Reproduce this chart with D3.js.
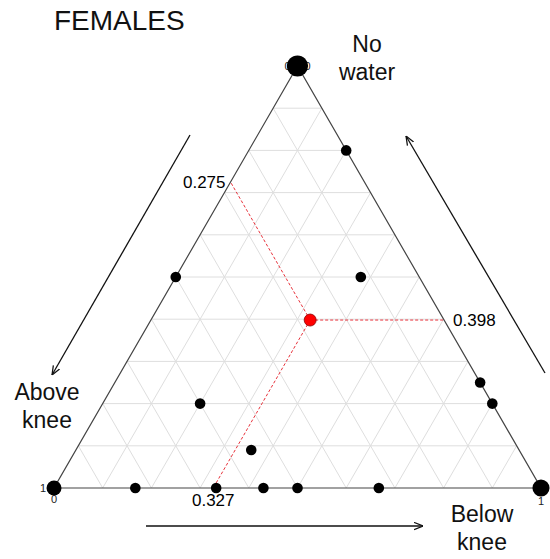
<html>
<head>
    <title>Ternary plot - females</title>
    <style type="text/css">
        body{ margin: 0; background-color: #fff; }
        svg{ display: block; font-family: "Liberation Sans", Arial, sans-serif; }
        .grid{ stroke: #dedede; stroke-width: 1px; }
        .edge{ stroke: #444; stroke-width: 1.2px; fill: none; }
        .guide{ stroke: #e8333c; stroke-width: 1px; stroke-dasharray: 3,2; }
        .arrow{ stroke: #111; stroke-width: 1.3px; fill: none; }
    </style>
    <script type="text/javascript" src="https://cdn.jsdelivr.net/npm/d3@7"></script>
</head>
<body>
<div id="chart"></div>
<script type="text/javascript">
    // compositions: above knee / below knee / no water
    var aboveKnee = [0, 1, 0, 0, 0.5, 0.12, 0, 0, 0.6, 0.55, 0.833, 0.667, 0.57, 0.5, 0.333];
    var belowKnee = [0, 0, 1, 0.2, 0, 0.38, 0.75, 0.8, 0.2, 0.36, 0.167, 0.333, 0.43, 0.5, 0.667];
    var noWater   = [1, 0, 0, 0.8, 0.5, 0.5, 0.25, 0.2, 0.2, 0.09, 0, 0, 0, 0, 0];
    var counts    = [4, 2, 2.6, 1, 1, 1, 1, 1, 1, 1, 1, 1, 1, 1, 1];

    // mean composition [above, below, noWater]
    var meanComp = [0.275, 0.327, 0.398];
    var meanLabels = ['0.275', '0.327', '0.398'];

    var gridLevels = [0.1, 0.2, 0.3, 0.4, 0.5, 0.6, 0.7, 0.8, 0.9];
    var axisNames = { above: ['Above', 'knee'], below: ['Below', 'knee'], water: ['No', 'water'] };
    var title = 'FEMALES';

    var width = 550, height = 559;
    var xLeft = 54, xRight = 541, yBase = 488, yApex = 66;

    // x position from (below + water/2), y from water share
    var xScale = d3.scaleLinear().domain([0, 1]).range([xLeft, xRight]);
    var yScale = d3.scaleLinear().domain([0, 1]).range([yBase, yApex]);
    var rScale = d3.scaleSqrt().domain([0, 1]).range([0, 5.3]);

    function px(a, b, w){ return xScale(b + w / 2); }
    function py(a, b, w){ return yScale(w); }

    var svg = d3.select('#chart').append('svg')
        .attr('width', width).attr('height', height);

    // grid lines
    var gridG = svg.append('g');
    gridLevels.forEach(function(v){
        // constant no water
        gridG.append('line').attr('class', 'grid')
            .attr('x1', px(1 - v, 0, v)).attr('y1', py(1 - v, 0, v))
            .attr('x2', px(0, 1 - v, v)).attr('y2', py(0, 1 - v, v));
        // constant below knee
        gridG.append('line').attr('class', 'grid')
            .attr('x1', px(1 - v, v, 0)).attr('y1', py(1 - v, v, 0))
            .attr('x2', px(0, v, 1 - v)).attr('y2', py(0, v, 1 - v));
        // constant above knee
        gridG.append('line').attr('class', 'grid')
            .attr('x1', px(v, 1 - v, 0)).attr('y1', py(v, 1 - v, 0))
            .attr('x2', px(v, 0, 1 - v)).attr('y2', py(v, 0, 1 - v));
    });

    // triangle
    svg.append('path').attr('class', 'edge')
        .attr('d', d3.line()([
            [px(1, 0, 0), py(1, 0, 0)],
            [px(0, 1, 0), py(0, 1, 0)],
            [px(0, 0, 1), py(0, 0, 1)]
        ]) + 'Z');

    // guide lines from mean
    var ma = meanComp[0], mb = meanComp[1], mw = meanComp[2];
    var mx = px(ma, mb, mw), my = py(ma, mb, mw);
    var ends = [
        [ma, 0, 1 - ma],
        [1 - mb, mb, 0],
        [0, 1 - mw, mw]
    ];
    ends.forEach(function(e){
        svg.append('line').attr('class', 'guide')
            .attr('x1', mx).attr('y1', my)
            .attr('x2', px(e[0], e[1], e[2])).attr('y2', py(e[0], e[1], e[2]));
    });

    svg.append('text').attr('x', px(ends[0][0], ends[0][1], ends[0][2]) - 5)
        .attr('y', py(ends[0][0], ends[0][1], ends[0][2]) + 6)
        .attr('text-anchor', 'end').attr('font-size', 17).text(meanLabels[0]);
    svg.append('text').attr('x', px(ends[1][0], ends[1][1], ends[1][2]))
        .attr('y', py(ends[1][0], ends[1][1], ends[1][2]) + 18)
        .attr('text-anchor', 'middle').attr('font-size', 17).text(meanLabels[1]);
    svg.append('text').attr('x', px(ends[2][0], ends[2][1], ends[2][2]) + 9)
        .attr('y', py(ends[2][0], ends[2][1], ends[2][2]) + 6)
        .attr('text-anchor', 'start').attr('font-size', 17).text(meanLabels[2]);

    // corner tick labels
    var cornerG = svg.append('g').attr('font-size', 11).attr('text-anchor', 'middle').attr('fill', '#222');
    cornerG.append('text').attr('x', xScale(0) - 11).attr('y', yScale(0) + 4).text('1');
    cornerG.append('text').attr('x', xScale(0)).attr('y', yScale(0) + 15).text('0');
    cornerG.append('text').attr('x', xScale(1)).attr('y', yScale(0) + 17).text('1');
    cornerG.append('text').attr('x', xScale(0.5) - 10).attr('y', yScale(1) + 4).text('0');
    cornerG.append('text').attr('x', xScale(0.5) + 10).attr('y', yScale(1) + 4).text('0');

    // points
    var points = aboveKnee.map(function(a, i){
        return { a: a, b: belowKnee[i], w: noWater[i], n: counts[i] };
    });
    svg.selectAll('.dot')
        .data(points)
        .enter()
        .append('circle')
        .attr('class', 'dot')
        .attr('cx', function(d){ return px(d.a, d.b, d.w); })
        .attr('cy', function(d){ return py(d.a, d.b, d.w); })
        .attr('r', function(d){ return rScale(d.n); })
        .attr('fill', '#000');

    svg.append('circle')
        .attr('cx', mx).attr('cy', my).attr('r', 6)
        .attr('fill', '#f00').attr('stroke', '#8b0000').attr('stroke-width', 0.8);

    // arrows
    var defs = svg.append('defs');
    defs.append('marker').attr('id', 'head')
        .attr('viewBox', '0 0 10 10').attr('refX', 10).attr('refY', 5)
        .attr('markerWidth', 9).attr('markerHeight', 9)
        .attr('markerUnits', 'userSpaceOnUse')
        .attr('orient', 'auto')
        .append('path').attr('d', 'M0,1 L10,5 L0,9')
        .attr('fill', 'none').attr('stroke', '#111').attr('stroke-width', 1.4);

    var arrows = [
        [[190, 135], [52, 375]],
        [[545, 373], [406, 136]],
        [[146, 526], [423, 526]]
    ];
    arrows.forEach(function(a){
        svg.append('line').attr('class', 'arrow')
            .attr('x1', a[0][0]).attr('y1', a[0][1])
            .attr('x2', a[1][0]).attr('y2', a[1][1])
            .attr('marker-end', 'url(#head)');
    });

    // axis names
    function twoLines(lines, x, y){
        var t = svg.append('text').attr('x', x).attr('y', y)
            .attr('text-anchor', 'middle').attr('font-size', 23).attr('fill', '#111');
        t.append('tspan').attr('x', x).text(lines[0]);
        t.append('tspan').attr('x', x).attr('dy', 28).text(lines[1]);
    }
    twoLines(axisNames.water, 367, 52);
    twoLines(axisNames.above, 47, 400);
    twoLines(axisNames.below, 482, 522);

    svg.append('text').attr('x', 54).attr('y', 30)
        .attr('font-size', 28).attr('fill', '#111').text(title);
</script>
</body>
</html>
